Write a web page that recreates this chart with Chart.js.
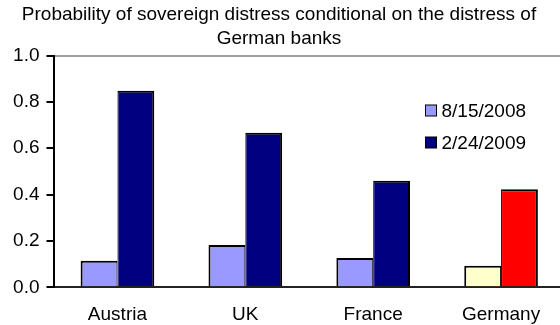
<!DOCTYPE html>
<html>
<head>
<meta charset="utf-8">
<script src="https://cdn.jsdelivr.net/npm/chart.js@4/dist/chart.umd.min.js"></script>
<style>
  html, body { margin: 0; padding: 0; background: #fff; overflow: hidden; }
  #wrap { width: 565px; height: 325px; }
</style>
</head>
<body>
<div id="wrap"><canvas id="chart" width="565" height="325"></canvas></div>
<script>
// Chart data
const titleLines = ['Probability of sovereign distress conditional on the distress of', 'German banks'];
const countries = ['Austria', 'UK', 'France', 'Germany'];
const seriesNames = ['8/15/2008', '2/24/2009'];
const aug2008 = [0.115, 0.182, 0.126, 0.093];
const feb2009 = [0.848, 0.667, 0.46, 0.423];
const yTicks = [0, 0.2, 0.4, 0.6, 0.8, 1.0];

// Colours: Germany is highlighted in its own pair of colours
const augColor = '#9999FF';
const febColor = '#000080';
const augHome = '#FFFFCC';
const febHome = '#FF0000';
const home = 'Germany';

const FONT = "'Liberation Sans', Arial, sans-serif";
const FONT_SIZE = 19;

const headline = {
  id: 'headline',
  afterDraw(chart) {
    const ctx = chart.ctx;
    ctx.save();
    ctx.fillStyle = '#000';
    ctx.font = FONT_SIZE + 'px ' + FONT;
    ctx.textAlign = 'center';
    ctx.textBaseline = 'alphabetic';
    ctx.fillText(titleLines[0], 279, 20);
    ctx.fillText(titleLines[1], 279, 44);
    ctx.restore();
  }
};

const keyBox = {
  id: 'keyBox',
  afterDraw(chart) {
    const ctx = chart.ctx;
    const swatches = [augColor, febColor];
    ctx.save();
    ctx.font = FONT_SIZE + 'px ' + FONT;
    ctx.textAlign = 'left';
    ctx.textBaseline = 'middle';
    chart.data.datasets.forEach((ds, i) => {
      const cy = 110.5 + i * 32;
      ctx.fillStyle = swatches[i];
      ctx.fillRect(425.5, cy - 5.5, 11, 11);
      ctx.strokeStyle = '#000';
      ctx.lineWidth = 1;
      ctx.strokeRect(425.5, cy - 5.5, 11, 11);
      ctx.fillStyle = '#000';
      ctx.fillText(ds.label, 441.5, cy + 1);
    });
    ctx.restore();
  }
};

new Chart(document.getElementById('chart'), {
  type: 'bar',
  data: {
    labels: countries,
    datasets: [
      {
        label: seriesNames[0],
        data: aug2008,
        backgroundColor: countries.map(c => c === home ? augHome : augColor),
        borderColor: '#000',
        borderWidth: { left: 2, top: 2, right: 1, bottom: 0 },
        borderSkipped: false
      },
      {
        label: seriesNames[1],
        data: feb2009,
        backgroundColor: countries.map(c => c === home ? febHome : febColor),
        borderColor: '#000',
        borderWidth: { left: 1, top: 2, right: 2, bottom: 0 },
        borderSkipped: false
      }
    ]
  },
  options: {
    responsive: false,
    animation: false,
    devicePixelRatio: 1,
    layout: { padding: { top: 55.5, left: 0, right: 0, bottom: 0 } },
    datasets: { bar: { barPercentage: 1, categoryPercentage: 0.576 } },
    plugins: {
      legend: { display: false },
      title: { display: false },
      tooltip: { enabled: false }
    },
    scales: {
      x: {
        afterFit(scale) { scale.height = 37.7; },
        grid: { display: false },
        border: { display: true, color: '#222', width: 2 },
        ticks: { color: '#000', font: { family: FONT, size: FONT_SIZE }, padding: 8, maxRotation: 0 }
      },
      y: {
        min: 0,
        max: 1,
        afterFit(scale) { scale.width = 53.5; },
        afterBuildTicks(scale) { scale.ticks = yTicks.map(v => ({ value: v })); },
        grid: {
          color: ctx => (ctx.tick && ctx.tick.value === 1 ? '#A0A0A0' : 'rgba(0,0,0,0)'),
          tickColor: '#000',
          lineWidth: 2,
          tickLength: 7,
          drawTicks: true
        },
        border: { display: true, color: '#000', width: 2 },
        ticks: {
          color: '#000',
          font: { family: FONT, size: FONT_SIZE },
          padding: 7,
          callback: v => Number(v).toFixed(1)
        }
      }
    }
  },
  plugins: [headline, keyBox]
});
</script>
</body>
</html>
